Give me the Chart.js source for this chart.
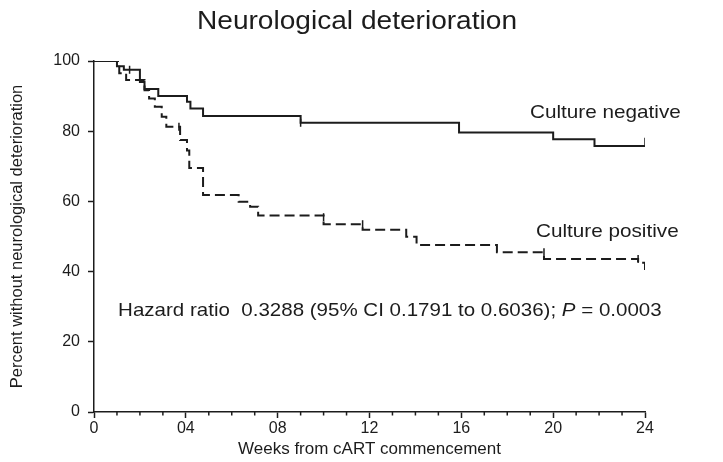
<!DOCTYPE html>
<html>
<head>
<meta charset="utf-8">
<title>Neurological deterioration</title>
<script src="https://cdn.jsdelivr.net/npm/chart.js"></script>
<style>
  body { margin: 0; background: #fff; }
  #wrap { width: 723px; height: 462px; position: relative; }
</style>
</head>
<body>
<div id="wrap">
  <canvas id="kmChart"></canvas>
</div>
<script>
// Kaplan-Meier curves (weeks, percent)
const negWeeks  = [0, 1.0, 1.3, 2.0, 2.2, 2.8, 4.05, 4.2, 4.75, 9.0, 15.9, 20.0, 21.8, 24];
const negValues = [100, 98.5, 97.5, 94, 92, 90, 88.4, 86.5, 84.3, 82.4, 79.6, 77.7, 75.8, 75.8];

const posWeeks  = [0, 1.1, 1.4, 2.2, 2.4, 2.65, 2.95, 3.15, 3.75, 4.05, 4.15, 4.75, 6.3, 6.8, 7.15, 10.0, 11.7, 13.6, 14.05, 17.55, 19.6, 23.7, 24];
const posValues = [100, 96.5, 94.6, 91.7, 89.3, 87, 84.1, 81.3, 77.5, 74.5, 69.5, 61.8, 59.9, 58.5, 56, 53.5, 51.9, 49.9, 47.6, 45.5, 43.6, 42.5, 39.7];

// censoring marks
const negCensorWeeks  = [1.55, 9.0, 24];
const negCensorValues = [97.5, 82.4, 77];
const posCensorWeeks  = [3.7, 10.0, 11.7, 19.6, 23.7];
const posCensorValues = [81.3, 55.5, 53.5, 45.5, 43.6];

const xTicks = [0, 4, 8, 12, 16, 20, 24];
const yTicks = [0, 20, 40, 60, 80, 100];

const FONT = 'Liberation Sans, Arial, Helvetica, sans-serif';
const INK = '#1c1c1c';

function pts(xs, ys) {
  return xs.map((x, i) => ({ x: x, y: ys[i] }));
}

// text in the picture is a little wider than the font, so stretch it
function wideText(ctx, parts, x, y, sx) {
  ctx.save();
  ctx.translate(x, y);
  ctx.scale(sx, 1);
  let cx = 0;
  parts.forEach(p => {
    ctx.font = p.font;
    ctx.fillText(p.text, cx, 0);
    cx += ctx.measureText(p.text).width;
  });
  ctx.restore();
}

// title, curve labels, hazard text and minor ticks
const extras = {
  id: 'extras',
  afterDraw(chart) {
    const ctx = chart.ctx;
    const x = chart.scales.x;
    const y = chart.scales.y;
    ctx.save();
    ctx.fillStyle = INK;
    ctx.textBaseline = 'middle';

    ctx.textAlign = 'center';
    wideText(ctx, [{ text: 'Neurological deterioration', font: '26px ' + FONT }], 357, 22, 1.08);

    ctx.textAlign = 'left';
    const f = '19px ' + FONT;
    wideText(ctx, [{ text: 'Culture negative', font: f }], x.getPixelForValue(18.99), y.getPixelForValue(85.2), 1.09);
    wideText(ctx, [{ text: 'Culture positive', font: f }], x.getPixelForValue(19.25), y.getPixelForValue(51.3), 1.09);
    wideText(ctx, [
      { text: 'Hazard ratio  0.3288 (95% CI 0.1791 to 0.6036); ', font: f },
      { text: 'P', font: 'italic ' + f },
      { text: ' = 0.0003', font: f }
    ], x.getPixelForValue(1.05), y.getPixelForValue(28.8), 1.08);

    // minor week ticks
    ctx.strokeStyle = INK;
    ctx.lineWidth = 1.5;
    for (let w = 0; w <= 24; w++) {
      if (w % 4 === 0) continue;
      const xp = x.getPixelForValue(w);
      ctx.beginPath();
      ctx.moveTo(xp, x.top);
      ctx.lineTo(xp, x.top + 3.5);
      ctx.stroke();
    }
    ctx.restore();
  }
};

new Chart(document.getElementById('kmChart'), {
  type: 'line',
  data: {
    datasets: [
      {
        label: 'Culture negative',
        data: pts(negWeeks, negValues),
        stepped: true,
        borderColor: INK,
        borderWidth: 2,
        pointRadius: 0,
        fill: false
      },
      {
        label: 'Culture positive',
        data: pts(posWeeks, posValues),
        stepped: true,
        borderColor: INK,
        borderWidth: 2,
        borderDash: [10, 5],
        pointRadius: 0,
        fill: false
      },
      {
        type: 'scatter',
        data: pts(negCensorWeeks, negCensorValues),
        pointStyle: 'line',
        rotation: 90,
        pointRadius: 4,
        borderColor: INK,
        borderWidth: 1.5,
        showLine: false
      },
      {
        type: 'scatter',
        data: pts(posCensorWeeks, posCensorValues),
        pointStyle: 'line',
        rotation: 90,
        pointRadius: 4,
        borderColor: INK,
        borderWidth: 1.5,
        showLine: false
      }
    ]
  },
  options: {
    responsive: true,
    maintainAspectRatio: false,
    animation: false,
    layout: { padding: { left: 0, right: 78, top: 61, bottom: 0 } },
    plugins: {
      legend: { display: false },
      tooltip: { enabled: false },
      title: { display: false }
    },
    scales: {
      x: {
        type: 'linear',
        min: 0,
        max: 24,
        afterFit(scale) { scale.height = 50; },
        afterBuildTicks(scale) { scale.ticks = xTicks.map(v => ({ value: v })); },
        border: { display: true, color: INK, width: 1.5 },
        grid: { drawOnChartArea: false, drawTicks: true, tickLength: 6, tickColor: INK, tickWidth: 1.5 },
        ticks: {
          autoSkip: false,
          maxRotation: 0,
          padding: 1,
          color: INK,
          font: { family: FONT, size: 16 },
          callback: v => (v > 0 && v < 10 ? '0' + v : '' + v)
        },
        title: {
          display: true,
          text: 'Weeks from cART commencement',
          color: INK,
          font: { family: FONT, size: 17 },
          padding: { top: 0, bottom: 2 }
        }
      },
      y: {
        min: 0,
        max: 100,
        afterFit(scale) { scale.width = 94; },
        afterBuildTicks(scale) { scale.ticks = yTicks.map(v => ({ value: v })); },
        border: { display: true, color: INK, width: 1.5 },
        grid: { drawOnChartArea: false, drawTicks: true, tickLength: 6, tickColor: INK, tickWidth: 1.5 },
        ticks: {
          padding: 8,
          color: INK,
          font: { family: FONT, size: 16 }
        },
        title: {
          display: true,
          text: 'Percent without neurological deterioration',
          color: INK,
          font: { family: FONT, size: 16.5 },
          padding: { top: 8, bottom: 0 }
        }
      }
    }
  },
  plugins: [extras]
});
</script>
</body>
</html>
